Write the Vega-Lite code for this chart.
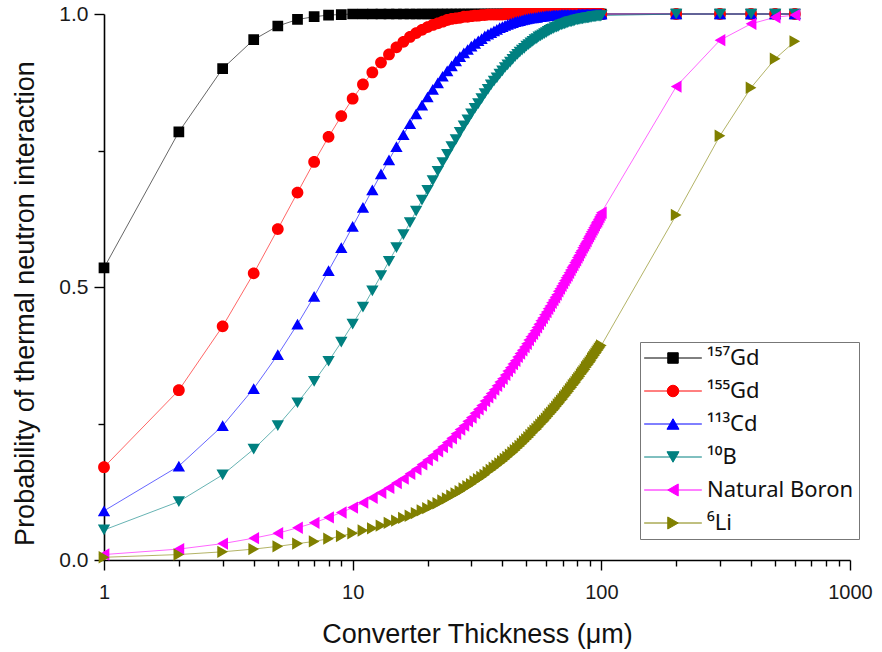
{
  "$schema": "https://vega.github.io/schema/vega-lite/v6.json",
  "width": 746,
  "height": 546,
  "autosize": "none",
  "padding": {"left": 104, "top": 14, "right": 32, "bottom": 92},
  "background": "white",
  "config": {
    "view": {"stroke": null},
    "font": "Liberation Sans",
    "axis": {
      "grid": false,
      "domainColor": "#000000",
      "domainWidth": 1.6,
      "tickColor": "#000000",
      "tickWidth": 1.4,
      "labelFont": "Liberation Sans",
      "labelColor": "#1a1a1a",
      "titleFont": "Liberation Sans",
      "titleColor": "#111111",
      "titleFontWeight": "normal",
      "labelOverlap": false,
      "labelFlush": false
    },
    "legend": {
      "orient": "none",
      "legendX": 536,
      "legendY": 328,
      "title": null,
      "labelFont": "Noto Sans",
      "labelFontSize": 22,
      "labelColor": "#111111",
      "labelLimit": 400,
      "symbolSize": 110,
      "symbolOffset": 17,
      "labelOffset": 23,
      "symbolStrokeWidth": 1,
      "symbolOpacity": 1,
      "rowPadding": 11,
      "padding": 5,
      "strokeColor": "#777777",
      "fillColor": "#ffffff"
    }
  },
  "data": {
    "values": [
      {"s":"¹⁵⁷Gd","x":1,"y":0.535},{"s":"¹⁵⁷Gd","x":2,"y":0.784},{"s":"¹⁵⁷Gd","x":3,"y":0.900},{"s":"¹⁵⁷Gd","x":4,"y":0.953},{"s":"¹⁵⁷Gd","x":5,"y":0.978},
      {"s":"¹⁵⁷Gd","x":6,"y":0.990},{"s":"¹⁵⁷Gd","x":7,"y":0.995},{"s":"¹⁵⁷Gd","x":8,"y":0.998},{"s":"¹⁵⁷Gd","x":9,"y":0.999},{"s":"¹⁵⁷Gd","x":10,"y":1},
      {"s":"¹⁵⁷Gd","x":11,"y":1},{"s":"¹⁵⁷Gd","x":12,"y":1},{"s":"¹⁵⁷Gd","x":13,"y":1},{"s":"¹⁵⁷Gd","x":14,"y":1},{"s":"¹⁵⁷Gd","x":15,"y":1},
      {"s":"¹⁵⁷Gd","x":16,"y":1},{"s":"¹⁵⁷Gd","x":17,"y":1},{"s":"¹⁵⁷Gd","x":18,"y":1},{"s":"¹⁵⁷Gd","x":19,"y":1},{"s":"¹⁵⁷Gd","x":20,"y":1},
      {"s":"¹⁵⁷Gd","x":21,"y":1},{"s":"¹⁵⁷Gd","x":22,"y":1},{"s":"¹⁵⁷Gd","x":23,"y":1},{"s":"¹⁵⁷Gd","x":24,"y":1},{"s":"¹⁵⁷Gd","x":25,"y":1},
      {"s":"¹⁵⁷Gd","x":26,"y":1},{"s":"¹⁵⁷Gd","x":27,"y":1},{"s":"¹⁵⁷Gd","x":28,"y":1},{"s":"¹⁵⁷Gd","x":29,"y":1},{"s":"¹⁵⁷Gd","x":30,"y":1},
      {"s":"¹⁵⁷Gd","x":31,"y":1},{"s":"¹⁵⁷Gd","x":32,"y":1},{"s":"¹⁵⁷Gd","x":33,"y":1},{"s":"¹⁵⁷Gd","x":34,"y":1},{"s":"¹⁵⁷Gd","x":35,"y":1},
      {"s":"¹⁵⁷Gd","x":36,"y":1},{"s":"¹⁵⁷Gd","x":37,"y":1},{"s":"¹⁵⁷Gd","x":38,"y":1},{"s":"¹⁵⁷Gd","x":39,"y":1},{"s":"¹⁵⁷Gd","x":40,"y":1},
      {"s":"¹⁵⁷Gd","x":41,"y":1},{"s":"¹⁵⁷Gd","x":42,"y":1},{"s":"¹⁵⁷Gd","x":43,"y":1},{"s":"¹⁵⁷Gd","x":44,"y":1},{"s":"¹⁵⁷Gd","x":45,"y":1},
      {"s":"¹⁵⁷Gd","x":46,"y":1},{"s":"¹⁵⁷Gd","x":47,"y":1},{"s":"¹⁵⁷Gd","x":48,"y":1},{"s":"¹⁵⁷Gd","x":49,"y":1},{"s":"¹⁵⁷Gd","x":50,"y":1},
      {"s":"¹⁵⁷Gd","x":51,"y":1},{"s":"¹⁵⁷Gd","x":52,"y":1},{"s":"¹⁵⁷Gd","x":53,"y":1},{"s":"¹⁵⁷Gd","x":54,"y":1},{"s":"¹⁵⁷Gd","x":55,"y":1},
      {"s":"¹⁵⁷Gd","x":56,"y":1},{"s":"¹⁵⁷Gd","x":57,"y":1},{"s":"¹⁵⁷Gd","x":58,"y":1},{"s":"¹⁵⁷Gd","x":59,"y":1},{"s":"¹⁵⁷Gd","x":60,"y":1},
      {"s":"¹⁵⁷Gd","x":61,"y":1},{"s":"¹⁵⁷Gd","x":62,"y":1},{"s":"¹⁵⁷Gd","x":63,"y":1},{"s":"¹⁵⁷Gd","x":64,"y":1},{"s":"¹⁵⁷Gd","x":65,"y":1},
      {"s":"¹⁵⁷Gd","x":66,"y":1},{"s":"¹⁵⁷Gd","x":67,"y":1},{"s":"¹⁵⁷Gd","x":68,"y":1},{"s":"¹⁵⁷Gd","x":69,"y":1},{"s":"¹⁵⁷Gd","x":70,"y":1},
      {"s":"¹⁵⁷Gd","x":71,"y":1},{"s":"¹⁵⁷Gd","x":72,"y":1},{"s":"¹⁵⁷Gd","x":73,"y":1},{"s":"¹⁵⁷Gd","x":74,"y":1},{"s":"¹⁵⁷Gd","x":75,"y":1},
      {"s":"¹⁵⁷Gd","x":76,"y":1},{"s":"¹⁵⁷Gd","x":77,"y":1},{"s":"¹⁵⁷Gd","x":78,"y":1},{"s":"¹⁵⁷Gd","x":79,"y":1},{"s":"¹⁵⁷Gd","x":80,"y":1},
      {"s":"¹⁵⁷Gd","x":81,"y":1},{"s":"¹⁵⁷Gd","x":82,"y":1},{"s":"¹⁵⁷Gd","x":83,"y":1},{"s":"¹⁵⁷Gd","x":84,"y":1},{"s":"¹⁵⁷Gd","x":85,"y":1},
      {"s":"¹⁵⁷Gd","x":86,"y":1},{"s":"¹⁵⁷Gd","x":87,"y":1},{"s":"¹⁵⁷Gd","x":88,"y":1},{"s":"¹⁵⁷Gd","x":89,"y":1},{"s":"¹⁵⁷Gd","x":90,"y":1},
      {"s":"¹⁵⁷Gd","x":91,"y":1},{"s":"¹⁵⁷Gd","x":92,"y":1},{"s":"¹⁵⁷Gd","x":93,"y":1},{"s":"¹⁵⁷Gd","x":94,"y":1},{"s":"¹⁵⁷Gd","x":95,"y":1},
      {"s":"¹⁵⁷Gd","x":96,"y":1},{"s":"¹⁵⁷Gd","x":97,"y":1},{"s":"¹⁵⁷Gd","x":98,"y":1},{"s":"¹⁵⁷Gd","x":99,"y":1},{"s":"¹⁵⁷Gd","x":100,"y":1},
      {"s":"¹⁵⁷Gd","x":200,"y":1},{"s":"¹⁵⁷Gd","x":300,"y":1},{"s":"¹⁵⁷Gd","x":400,"y":1},{"s":"¹⁵⁷Gd","x":500,"y":1},{"s":"¹⁵⁷Gd","x":600,"y":1},

      {"s":"¹⁵⁵Gd","x":1,"y":0.170},{"s":"¹⁵⁵Gd","x":2,"y":0.311},{"s":"¹⁵⁵Gd","x":3,"y":0.428},{"s":"¹⁵⁵Gd","x":4,"y":0.525},{"s":"¹⁵⁵Gd","x":5,"y":0.606},
      {"s":"¹⁵⁵Gd","x":6,"y":0.673},{"s":"¹⁵⁵Gd","x":7,"y":0.729},{"s":"¹⁵⁵Gd","x":8,"y":0.775},{"s":"¹⁵⁵Gd","x":9,"y":0.813},{"s":"¹⁵⁵Gd","x":10,"y":0.845},
      {"s":"¹⁵⁵Gd","x":11,"y":0.871},{"s":"¹⁵⁵Gd","x":12,"y":0.893},{"s":"¹⁵⁵Gd","x":13,"y":0.911},{"s":"¹⁵⁵Gd","x":14,"y":0.926},{"s":"¹⁵⁵Gd","x":15,"y":0.939},
      {"s":"¹⁵⁵Gd","x":16,"y":0.949},{"s":"¹⁵⁵Gd","x":17,"y":0.958},{"s":"¹⁵⁵Gd","x":18,"y":0.965},{"s":"¹⁵⁵Gd","x":19,"y":0.971},{"s":"¹⁵⁵Gd","x":20,"y":0.976},
      {"s":"¹⁵⁵Gd","x":21,"y":0.980},{"s":"¹⁵⁵Gd","x":22,"y":0.983},{"s":"¹⁵⁵Gd","x":23,"y":0.986},{"s":"¹⁵⁵Gd","x":24,"y":0.989},{"s":"¹⁵⁵Gd","x":25,"y":0.991},
      {"s":"¹⁵⁵Gd","x":26,"y":0.992},{"s":"¹⁵⁵Gd","x":27,"y":0.993},{"s":"¹⁵⁵Gd","x":28,"y":0.995},{"s":"¹⁵⁵Gd","x":29,"y":0.995},{"s":"¹⁵⁵Gd","x":30,"y":0.996},
      {"s":"¹⁵⁵Gd","x":31,"y":0.997},{"s":"¹⁵⁵Gd","x":32,"y":0.997},{"s":"¹⁵⁵Gd","x":33,"y":0.998},{"s":"¹⁵⁵Gd","x":34,"y":0.998},{"s":"¹⁵⁵Gd","x":35,"y":0.999},
      {"s":"¹⁵⁵Gd","x":36,"y":0.999},{"s":"¹⁵⁵Gd","x":37,"y":0.999},{"s":"¹⁵⁵Gd","x":38,"y":0.999},{"s":"¹⁵⁵Gd","x":39,"y":0.999},{"s":"¹⁵⁵Gd","x":40,"y":0.999},
      {"s":"¹⁵⁵Gd","x":41,"y":1},{"s":"¹⁵⁵Gd","x":42,"y":1},{"s":"¹⁵⁵Gd","x":43,"y":1},{"s":"¹⁵⁵Gd","x":44,"y":1},{"s":"¹⁵⁵Gd","x":45,"y":1},
      {"s":"¹⁵⁵Gd","x":46,"y":1},{"s":"¹⁵⁵Gd","x":47,"y":1},{"s":"¹⁵⁵Gd","x":48,"y":1},{"s":"¹⁵⁵Gd","x":49,"y":1},{"s":"¹⁵⁵Gd","x":50,"y":1},
      {"s":"¹⁵⁵Gd","x":51,"y":1},{"s":"¹⁵⁵Gd","x":52,"y":1},{"s":"¹⁵⁵Gd","x":53,"y":1},{"s":"¹⁵⁵Gd","x":54,"y":1},{"s":"¹⁵⁵Gd","x":55,"y":1},
      {"s":"¹⁵⁵Gd","x":56,"y":1},{"s":"¹⁵⁵Gd","x":57,"y":1},{"s":"¹⁵⁵Gd","x":58,"y":1},{"s":"¹⁵⁵Gd","x":59,"y":1},{"s":"¹⁵⁵Gd","x":60,"y":1},
      {"s":"¹⁵⁵Gd","x":61,"y":1},{"s":"¹⁵⁵Gd","x":62,"y":1},{"s":"¹⁵⁵Gd","x":63,"y":1},{"s":"¹⁵⁵Gd","x":64,"y":1},{"s":"¹⁵⁵Gd","x":65,"y":1},
      {"s":"¹⁵⁵Gd","x":66,"y":1},{"s":"¹⁵⁵Gd","x":67,"y":1},{"s":"¹⁵⁵Gd","x":68,"y":1},{"s":"¹⁵⁵Gd","x":69,"y":1},{"s":"¹⁵⁵Gd","x":70,"y":1},
      {"s":"¹⁵⁵Gd","x":71,"y":1},{"s":"¹⁵⁵Gd","x":72,"y":1},{"s":"¹⁵⁵Gd","x":73,"y":1},{"s":"¹⁵⁵Gd","x":74,"y":1},{"s":"¹⁵⁵Gd","x":75,"y":1},
      {"s":"¹⁵⁵Gd","x":76,"y":1},{"s":"¹⁵⁵Gd","x":77,"y":1},{"s":"¹⁵⁵Gd","x":78,"y":1},{"s":"¹⁵⁵Gd","x":79,"y":1},{"s":"¹⁵⁵Gd","x":80,"y":1},
      {"s":"¹⁵⁵Gd","x":81,"y":1},{"s":"¹⁵⁵Gd","x":82,"y":1},{"s":"¹⁵⁵Gd","x":83,"y":1},{"s":"¹⁵⁵Gd","x":84,"y":1},{"s":"¹⁵⁵Gd","x":85,"y":1},
      {"s":"¹⁵⁵Gd","x":86,"y":1},{"s":"¹⁵⁵Gd","x":87,"y":1},{"s":"¹⁵⁵Gd","x":88,"y":1},{"s":"¹⁵⁵Gd","x":89,"y":1},{"s":"¹⁵⁵Gd","x":90,"y":1},
      {"s":"¹⁵⁵Gd","x":91,"y":1},{"s":"¹⁵⁵Gd","x":92,"y":1},{"s":"¹⁵⁵Gd","x":93,"y":1},{"s":"¹⁵⁵Gd","x":94,"y":1},{"s":"¹⁵⁵Gd","x":95,"y":1},
      {"s":"¹⁵⁵Gd","x":96,"y":1},{"s":"¹⁵⁵Gd","x":97,"y":1},{"s":"¹⁵⁵Gd","x":98,"y":1},{"s":"¹⁵⁵Gd","x":99,"y":1},{"s":"¹⁵⁵Gd","x":100,"y":1},
      {"s":"¹⁵⁵Gd","x":200,"y":1},{"s":"¹⁵⁵Gd","x":300,"y":1},{"s":"¹⁵⁵Gd","x":400,"y":1},{"s":"¹⁵⁵Gd","x":500,"y":1},{"s":"¹⁵⁵Gd","x":600,"y":1},

      {"s":"¹¹³Cd","x":1,"y":0.090},{"s":"¹¹³Cd","x":2,"y":0.172},{"s":"¹¹³Cd","x":3,"y":0.246},{"s":"¹¹³Cd","x":4,"y":0.314},{"s":"¹¹³Cd","x":5,"y":0.376},
      {"s":"¹¹³Cd","x":6,"y":0.432},{"s":"¹¹³Cd","x":7,"y":0.483},{"s":"¹¹³Cd","x":8,"y":0.530},{"s":"¹¹³Cd","x":9,"y":0.572},{"s":"¹¹³Cd","x":10,"y":0.611},
      {"s":"¹¹³Cd","x":11,"y":0.646},{"s":"¹¹³Cd","x":12,"y":0.678},{"s":"¹¹³Cd","x":13,"y":0.707},{"s":"¹¹³Cd","x":14,"y":0.733},{"s":"¹¹³Cd","x":15,"y":0.757},
      {"s":"¹¹³Cd","x":16,"y":0.779},{"s":"¹¹³Cd","x":17,"y":0.799},{"s":"¹¹³Cd","x":18,"y":0.817},{"s":"¹¹³Cd","x":19,"y":0.833},{"s":"¹¹³Cd","x":20,"y":0.848},
      {"s":"¹¹³Cd","x":21,"y":0.862},{"s":"¹¹³Cd","x":22,"y":0.874},{"s":"¹¹³Cd","x":23,"y":0.886},{"s":"¹¹³Cd","x":24,"y":0.896},{"s":"¹¹³Cd","x":25,"y":0.905},
      {"s":"¹¹³Cd","x":26,"y":0.914},{"s":"¹¹³Cd","x":27,"y":0.922},{"s":"¹¹³Cd","x":28,"y":0.929},{"s":"¹¹³Cd","x":29,"y":0.935},{"s":"¹¹³Cd","x":30,"y":0.941},
      {"s":"¹¹³Cd","x":31,"y":0.946},{"s":"¹¹³Cd","x":32,"y":0.951},{"s":"¹¹³Cd","x":33,"y":0.955},{"s":"¹¹³Cd","x":34,"y":0.960},{"s":"¹¹³Cd","x":35,"y":0.963},
      {"s":"¹¹³Cd","x":36,"y":0.966},{"s":"¹¹³Cd","x":37,"y":0.969},{"s":"¹¹³Cd","x":38,"y":0.972},{"s":"¹¹³Cd","x":39,"y":0.975},{"s":"¹¹³Cd","x":40,"y":0.977},
      {"s":"¹¹³Cd","x":41,"y":0.979},{"s":"¹¹³Cd","x":42,"y":0.981},{"s":"¹¹³Cd","x":43,"y":0.983},{"s":"¹¹³Cd","x":44,"y":0.984},{"s":"¹¹³Cd","x":45,"y":0.986},
      {"s":"¹¹³Cd","x":46,"y":0.987},{"s":"¹¹³Cd","x":47,"y":0.988},{"s":"¹¹³Cd","x":48,"y":0.989},{"s":"¹¹³Cd","x":49,"y":0.990},{"s":"¹¹³Cd","x":50,"y":0.991},
      {"s":"¹¹³Cd","x":51,"y":0.992},{"s":"¹¹³Cd","x":52,"y":0.993},{"s":"¹¹³Cd","x":53,"y":0.993},{"s":"¹¹³Cd","x":54,"y":0.994},{"s":"¹¹³Cd","x":55,"y":0.994},
      {"s":"¹¹³Cd","x":56,"y":0.995},{"s":"¹¹³Cd","x":57,"y":0.995},{"s":"¹¹³Cd","x":58,"y":0.996},{"s":"¹¹³Cd","x":59,"y":0.996},{"s":"¹¹³Cd","x":60,"y":0.997},
      {"s":"¹¹³Cd","x":61,"y":0.997},{"s":"¹¹³Cd","x":62,"y":0.997},{"s":"¹¹³Cd","x":63,"y":0.997},{"s":"¹¹³Cd","x":64,"y":0.998},{"s":"¹¹³Cd","x":65,"y":0.998},
      {"s":"¹¹³Cd","x":66,"y":0.998},{"s":"¹¹³Cd","x":67,"y":0.998},{"s":"¹¹³Cd","x":68,"y":0.998},{"s":"¹¹³Cd","x":69,"y":0.999},{"s":"¹¹³Cd","x":70,"y":0.999},
      {"s":"¹¹³Cd","x":71,"y":0.999},{"s":"¹¹³Cd","x":72,"y":0.999},{"s":"¹¹³Cd","x":73,"y":0.999},{"s":"¹¹³Cd","x":74,"y":0.999},{"s":"¹¹³Cd","x":75,"y":0.999},
      {"s":"¹¹³Cd","x":76,"y":0.999},{"s":"¹¹³Cd","x":77,"y":0.999},{"s":"¹¹³Cd","x":78,"y":0.999},{"s":"¹¹³Cd","x":79,"y":0.999},{"s":"¹¹³Cd","x":80,"y":0.999},
      {"s":"¹¹³Cd","x":81,"y":1},{"s":"¹¹³Cd","x":82,"y":1},{"s":"¹¹³Cd","x":83,"y":1},{"s":"¹¹³Cd","x":84,"y":1},{"s":"¹¹³Cd","x":85,"y":1},
      {"s":"¹¹³Cd","x":86,"y":1},{"s":"¹¹³Cd","x":87,"y":1},{"s":"¹¹³Cd","x":88,"y":1},{"s":"¹¹³Cd","x":89,"y":1},{"s":"¹¹³Cd","x":90,"y":1},
      {"s":"¹¹³Cd","x":91,"y":1},{"s":"¹¹³Cd","x":92,"y":1},{"s":"¹¹³Cd","x":93,"y":1},{"s":"¹¹³Cd","x":94,"y":1},{"s":"¹¹³Cd","x":95,"y":1},
      {"s":"¹¹³Cd","x":96,"y":1},{"s":"¹¹³Cd","x":97,"y":1},{"s":"¹¹³Cd","x":98,"y":1},{"s":"¹¹³Cd","x":99,"y":1},{"s":"¹¹³Cd","x":100,"y":1},
      {"s":"¹¹³Cd","x":200,"y":1},{"s":"¹¹³Cd","x":300,"y":1},{"s":"¹¹³Cd","x":400,"y":1},{"s":"¹¹³Cd","x":500,"y":1},{"s":"¹¹³Cd","x":600,"y":1},

      {"s":"¹⁰B","x":1,"y":0.055},{"s":"¹⁰B","x":2,"y":0.107},{"s":"¹⁰B","x":3,"y":0.156},{"s":"¹⁰B","x":4,"y":0.203},{"s":"¹⁰B","x":5,"y":0.246},
      {"s":"¹⁰B","x":6,"y":0.288},{"s":"¹⁰B","x":7,"y":0.327},{"s":"¹⁰B","x":8,"y":0.364},{"s":"¹⁰B","x":9,"y":0.399},{"s":"¹⁰B","x":10,"y":0.432},
      {"s":"¹⁰B","x":11,"y":0.463},{"s":"¹⁰B","x":12,"y":0.493},{"s":"¹⁰B","x":13,"y":0.521},{"s":"¹⁰B","x":14,"y":0.547},{"s":"¹⁰B","x":15,"y":0.572},
      {"s":"¹⁰B","x":16,"y":0.596},{"s":"¹⁰B","x":17,"y":0.618},{"s":"¹⁰B","x":18,"y":0.639},{"s":"¹⁰B","x":19,"y":0.659},{"s":"¹⁰B","x":20,"y":0.677},
      {"s":"¹⁰B","x":21,"y":0.695},{"s":"¹⁰B","x":22,"y":0.712},{"s":"¹⁰B","x":23,"y":0.728},{"s":"¹⁰B","x":24,"y":0.743},{"s":"¹⁰B","x":25,"y":0.757},
      {"s":"¹⁰B","x":26,"y":0.770},{"s":"¹⁰B","x":27,"y":0.783},{"s":"¹⁰B","x":28,"y":0.795},{"s":"¹⁰B","x":29,"y":0.806},{"s":"¹⁰B","x":30,"y":0.817},
      {"s":"¹⁰B","x":31,"y":0.827},{"s":"¹⁰B","x":32,"y":0.836},{"s":"¹⁰B","x":33,"y":0.845},{"s":"¹⁰B","x":34,"y":0.854},{"s":"¹⁰B","x":35,"y":0.862},
      {"s":"¹⁰B","x":36,"y":0.870},{"s":"¹⁰B","x":37,"y":0.877},{"s":"¹⁰B","x":38,"y":0.883},{"s":"¹⁰B","x":39,"y":0.890},{"s":"¹⁰B","x":40,"y":0.896},
      {"s":"¹⁰B","x":41,"y":0.902},{"s":"¹⁰B","x":42,"y":0.907},{"s":"¹⁰B","x":43,"y":0.912},{"s":"¹⁰B","x":44,"y":0.917},{"s":"¹⁰B","x":45,"y":0.922},
      {"s":"¹⁰B","x":46,"y":0.926},{"s":"¹⁰B","x":47,"y":0.930},{"s":"¹⁰B","x":48,"y":0.934},{"s":"¹⁰B","x":49,"y":0.937},{"s":"¹⁰B","x":50,"y":0.941},
      {"s":"¹⁰B","x":51,"y":0.944},{"s":"¹⁰B","x":52,"y":0.947},{"s":"¹⁰B","x":53,"y":0.950},{"s":"¹⁰B","x":54,"y":0.953},{"s":"¹⁰B","x":55,"y":0.955},
      {"s":"¹⁰B","x":56,"y":0.958},{"s":"¹⁰B","x":57,"y":0.960},{"s":"¹⁰B","x":58,"y":0.962},{"s":"¹⁰B","x":59,"y":0.964},{"s":"¹⁰B","x":60,"y":0.966},
      {"s":"¹⁰B","x":61,"y":0.968},{"s":"¹⁰B","x":62,"y":0.970},{"s":"¹⁰B","x":63,"y":0.972},{"s":"¹⁰B","x":64,"y":0.973},{"s":"¹⁰B","x":65,"y":0.975},
      {"s":"¹⁰B","x":66,"y":0.976},{"s":"¹⁰B","x":67,"y":0.977},{"s":"¹⁰B","x":68,"y":0.979},{"s":"¹⁰B","x":69,"y":0.980},{"s":"¹⁰B","x":70,"y":0.981},
      {"s":"¹⁰B","x":71,"y":0.982},{"s":"¹⁰B","x":72,"y":0.983},{"s":"¹⁰B","x":73,"y":0.984},{"s":"¹⁰B","x":74,"y":0.985},{"s":"¹⁰B","x":75,"y":0.986},
      {"s":"¹⁰B","x":76,"y":0.986},{"s":"¹⁰B","x":77,"y":0.987},{"s":"¹⁰B","x":78,"y":0.988},{"s":"¹⁰B","x":79,"y":0.989},{"s":"¹⁰B","x":80,"y":0.989},
      {"s":"¹⁰B","x":81,"y":0.990},{"s":"¹⁰B","x":82,"y":0.990},{"s":"¹⁰B","x":83,"y":0.991},{"s":"¹⁰B","x":84,"y":0.991},{"s":"¹⁰B","x":85,"y":0.992},
      {"s":"¹⁰B","x":86,"y":0.992},{"s":"¹⁰B","x":87,"y":0.993},{"s":"¹⁰B","x":88,"y":0.993},{"s":"¹⁰B","x":89,"y":0.993},{"s":"¹⁰B","x":90,"y":0.994},
      {"s":"¹⁰B","x":91,"y":0.994},{"s":"¹⁰B","x":92,"y":0.995},{"s":"¹⁰B","x":93,"y":0.995},{"s":"¹⁰B","x":94,"y":0.995},{"s":"¹⁰B","x":95,"y":0.995},
      {"s":"¹⁰B","x":96,"y":0.996},{"s":"¹⁰B","x":97,"y":0.996},{"s":"¹⁰B","x":98,"y":0.996},{"s":"¹⁰B","x":99,"y":0.996},{"s":"¹⁰B","x":100,"y":0.997},
      {"s":"¹⁰B","x":200,"y":1},{"s":"¹⁰B","x":300,"y":1},{"s":"¹⁰B","x":400,"y":1},{"s":"¹⁰B","x":500,"y":1},{"s":"¹⁰B","x":600,"y":1},

      {"s":"Natural Boron","x":1,"y":0.010},{"s":"Natural Boron","x":2,"y":0.020},{"s":"Natural Boron","x":3,"y":0.030},{"s":"Natural Boron","x":4,"y":0.040},{"s":"Natural Boron","x":5,"y":0.049},
      {"s":"Natural Boron","x":6,"y":0.059},{"s":"Natural Boron","x":7,"y":0.068},{"s":"Natural Boron","x":8,"y":0.078},{"s":"Natural Boron","x":9,"y":0.087},{"s":"Natural Boron","x":10,"y":0.096},
      {"s":"Natural Boron","x":11,"y":0.105},{"s":"Natural Boron","x":12,"y":0.114},{"s":"Natural Boron","x":13,"y":0.123},{"s":"Natural Boron","x":14,"y":0.132},{"s":"Natural Boron","x":15,"y":0.141},
      {"s":"Natural Boron","x":16,"y":0.149},{"s":"Natural Boron","x":17,"y":0.158},{"s":"Natural Boron","x":18,"y":0.166},{"s":"Natural Boron","x":19,"y":0.175},{"s":"Natural Boron","x":20,"y":0.183},
      {"s":"Natural Boron","x":21,"y":0.191},{"s":"Natural Boron","x":22,"y":0.199},{"s":"Natural Boron","x":23,"y":0.207},{"s":"Natural Boron","x":24,"y":0.215},{"s":"Natural Boron","x":25,"y":0.223},
      {"s":"Natural Boron","x":26,"y":0.231},{"s":"Natural Boron","x":27,"y":0.239},{"s":"Natural Boron","x":28,"y":0.246},{"s":"Natural Boron","x":29,"y":0.254},{"s":"Natural Boron","x":30,"y":0.261},
      {"s":"Natural Boron","x":31,"y":0.269},{"s":"Natural Boron","x":32,"y":0.276},{"s":"Natural Boron","x":33,"y":0.283},{"s":"Natural Boron","x":34,"y":0.291},{"s":"Natural Boron","x":35,"y":0.298},
      {"s":"Natural Boron","x":36,"y":0.305},{"s":"Natural Boron","x":37,"y":0.312},{"s":"Natural Boron","x":38,"y":0.319},{"s":"Natural Boron","x":39,"y":0.326},{"s":"Natural Boron","x":40,"y":0.332},
      {"s":"Natural Boron","x":41,"y":0.339},{"s":"Natural Boron","x":42,"y":0.346},{"s":"Natural Boron","x":43,"y":0.352},{"s":"Natural Boron","x":44,"y":0.359},{"s":"Natural Boron","x":45,"y":0.365},
      {"s":"Natural Boron","x":46,"y":0.372},{"s":"Natural Boron","x":47,"y":0.378},{"s":"Natural Boron","x":48,"y":0.384},{"s":"Natural Boron","x":49,"y":0.390},{"s":"Natural Boron","x":50,"y":0.396},
      {"s":"Natural Boron","x":51,"y":0.403},{"s":"Natural Boron","x":52,"y":0.409},{"s":"Natural Boron","x":53,"y":0.414},{"s":"Natural Boron","x":54,"y":0.420},{"s":"Natural Boron","x":55,"y":0.426},
      {"s":"Natural Boron","x":56,"y":0.432},{"s":"Natural Boron","x":57,"y":0.438},{"s":"Natural Boron","x":58,"y":0.443},{"s":"Natural Boron","x":59,"y":0.449},{"s":"Natural Boron","x":60,"y":0.454},
      {"s":"Natural Boron","x":61,"y":0.460},{"s":"Natural Boron","x":62,"y":0.465},{"s":"Natural Boron","x":63,"y":0.471},{"s":"Natural Boron","x":64,"y":0.476},{"s":"Natural Boron","x":65,"y":0.481},
      {"s":"Natural Boron","x":66,"y":0.486},{"s":"Natural Boron","x":67,"y":0.492},{"s":"Natural Boron","x":68,"y":0.497},{"s":"Natural Boron","x":69,"y":0.502},{"s":"Natural Boron","x":70,"y":0.507},
      {"s":"Natural Boron","x":71,"y":0.512},{"s":"Natural Boron","x":72,"y":0.517},{"s":"Natural Boron","x":73,"y":0.521},{"s":"Natural Boron","x":74,"y":0.526},{"s":"Natural Boron","x":75,"y":0.531},
      {"s":"Natural Boron","x":76,"y":0.536},{"s":"Natural Boron","x":77,"y":0.540},{"s":"Natural Boron","x":78,"y":0.545},{"s":"Natural Boron","x":79,"y":0.549},{"s":"Natural Boron","x":80,"y":0.554},
      {"s":"Natural Boron","x":81,"y":0.558},{"s":"Natural Boron","x":82,"y":0.563},{"s":"Natural Boron","x":83,"y":0.567},{"s":"Natural Boron","x":84,"y":0.572},{"s":"Natural Boron","x":85,"y":0.576},
      {"s":"Natural Boron","x":86,"y":0.580},{"s":"Natural Boron","x":87,"y":0.584},{"s":"Natural Boron","x":88,"y":0.589},{"s":"Natural Boron","x":89,"y":0.593},{"s":"Natural Boron","x":90,"y":0.597},
      {"s":"Natural Boron","x":91,"y":0.601},{"s":"Natural Boron","x":92,"y":0.605},{"s":"Natural Boron","x":93,"y":0.609},{"s":"Natural Boron","x":94,"y":0.613},{"s":"Natural Boron","x":95,"y":0.617},
      {"s":"Natural Boron","x":96,"y":0.620},{"s":"Natural Boron","x":97,"y":0.624},{"s":"Natural Boron","x":98,"y":0.628},{"s":"Natural Boron","x":99,"y":0.632},{"s":"Natural Boron","x":100,"y":0.636},
      {"s":"Natural Boron","x":200,"y":0.867},{"s":"Natural Boron","x":300,"y":0.952},{"s":"Natural Boron","x":400,"y":0.982},{"s":"Natural Boron","x":500,"y":0.994},{"s":"Natural Boron","x":600,"y":0.998},

      {"s":"⁶Li","x":1,"y":0.005},{"s":"⁶Li","x":2,"y":0.010},{"s":"⁶Li","x":3,"y":0.015},{"s":"⁶Li","x":4,"y":0.020},{"s":"⁶Li","x":5,"y":0.025},
      {"s":"⁶Li","x":6,"y":0.030},{"s":"⁶Li","x":7,"y":0.034},{"s":"⁶Li","x":8,"y":0.039},{"s":"⁶Li","x":9,"y":0.044},{"s":"⁶Li","x":10,"y":0.049},
      {"s":"⁶Li","x":11,"y":0.054},{"s":"⁶Li","x":12,"y":0.058},{"s":"⁶Li","x":13,"y":0.063},{"s":"⁶Li","x":14,"y":0.068},{"s":"⁶Li","x":15,"y":0.072},
      {"s":"⁶Li","x":16,"y":0.077},{"s":"⁶Li","x":17,"y":0.081},{"s":"⁶Li","x":18,"y":0.086},{"s":"⁶Li","x":19,"y":0.091},{"s":"⁶Li","x":20,"y":0.095},
      {"s":"⁶Li","x":21,"y":0.100},{"s":"⁶Li","x":22,"y":0.104},{"s":"⁶Li","x":23,"y":0.109},{"s":"⁶Li","x":24,"y":0.113},{"s":"⁶Li","x":25,"y":0.118},
      {"s":"⁶Li","x":26,"y":0.122},{"s":"⁶Li","x":27,"y":0.126},{"s":"⁶Li","x":28,"y":0.131},{"s":"⁶Li","x":29,"y":0.135},{"s":"⁶Li","x":30,"y":0.139},
      {"s":"⁶Li","x":31,"y":0.144},{"s":"⁶Li","x":32,"y":0.148},{"s":"⁶Li","x":33,"y":0.152},{"s":"⁶Li","x":34,"y":0.156},{"s":"⁶Li","x":35,"y":0.161},
      {"s":"⁶Li","x":36,"y":0.165},{"s":"⁶Li","x":37,"y":0.169},{"s":"⁶Li","x":38,"y":0.173},{"s":"⁶Li","x":39,"y":0.177},{"s":"⁶Li","x":40,"y":0.181},
      {"s":"⁶Li","x":41,"y":0.185},{"s":"⁶Li","x":42,"y":0.189},{"s":"⁶Li","x":43,"y":0.193},{"s":"⁶Li","x":44,"y":0.197},{"s":"⁶Li","x":45,"y":0.201},
      {"s":"⁶Li","x":46,"y":0.205},{"s":"⁶Li","x":47,"y":0.209},{"s":"⁶Li","x":48,"y":0.213},{"s":"⁶Li","x":49,"y":0.217},{"s":"⁶Li","x":50,"y":0.221},
      {"s":"⁶Li","x":51,"y":0.225},{"s":"⁶Li","x":52,"y":0.229},{"s":"⁶Li","x":53,"y":0.233},{"s":"⁶Li","x":54,"y":0.237},{"s":"⁶Li","x":55,"y":0.240},
      {"s":"⁶Li","x":56,"y":0.244},{"s":"⁶Li","x":57,"y":0.248},{"s":"⁶Li","x":58,"y":0.252},{"s":"⁶Li","x":59,"y":0.255},{"s":"⁶Li","x":60,"y":0.259},
      {"s":"⁶Li","x":61,"y":0.263},{"s":"⁶Li","x":62,"y":0.267},{"s":"⁶Li","x":63,"y":0.270},{"s":"⁶Li","x":64,"y":0.274},{"s":"⁶Li","x":65,"y":0.277},
      {"s":"⁶Li","x":66,"y":0.281},{"s":"⁶Li","x":67,"y":0.285},{"s":"⁶Li","x":68,"y":0.288},{"s":"⁶Li","x":69,"y":0.292},{"s":"⁶Li","x":70,"y":0.295},
      {"s":"⁶Li","x":71,"y":0.299},{"s":"⁶Li","x":72,"y":0.302},{"s":"⁶Li","x":73,"y":0.306},{"s":"⁶Li","x":74,"y":0.309},{"s":"⁶Li","x":75,"y":0.313},
      {"s":"⁶Li","x":76,"y":0.316},{"s":"⁶Li","x":77,"y":0.320},{"s":"⁶Li","x":78,"y":0.323},{"s":"⁶Li","x":79,"y":0.326},{"s":"⁶Li","x":80,"y":0.330},
      {"s":"⁶Li","x":81,"y":0.333},{"s":"⁶Li","x":82,"y":0.336},{"s":"⁶Li","x":83,"y":0.340},{"s":"⁶Li","x":84,"y":0.343},{"s":"⁶Li","x":85,"y":0.346},
      {"s":"⁶Li","x":86,"y":0.349},{"s":"⁶Li","x":87,"y":0.353},{"s":"⁶Li","x":88,"y":0.356},{"s":"⁶Li","x":89,"y":0.359},{"s":"⁶Li","x":90,"y":0.362},
      {"s":"⁶Li","x":91,"y":0.365},{"s":"⁶Li","x":92,"y":0.369},{"s":"⁶Li","x":93,"y":0.372},{"s":"⁶Li","x":94,"y":0.375},{"s":"⁶Li","x":95,"y":0.378},
      {"s":"⁶Li","x":96,"y":0.381},{"s":"⁶Li","x":97,"y":0.384},{"s":"⁶Li","x":98,"y":0.387},{"s":"⁶Li","x":99,"y":0.390},{"s":"⁶Li","x":100,"y":0.393},
      {"s":"⁶Li","x":200,"y":0.632},{"s":"⁶Li","x":300,"y":0.777},{"s":"⁶Li","x":400,"y":0.865},{"s":"⁶Li","x":500,"y":0.918},{"s":"⁶Li","x":600,"y":0.950}
    ]
  },
  "encoding": {
    "x": {
      "field": "x",
      "type": "quantitative",
      "scale": {"type": "log", "domain": [1, 1000], "nice": false},
      "axis": {
        "values": [1,2,3,4,5,6,7,8,9,10,20,30,40,50,60,70,80,90,100,200,300,400,500,600,700,800,900,1000],
        "labelExpr": "indexof([1,10,100,1000], datum.value) >= 0 ? format(datum.value, 'd') : ''",
        "tickSize": {"condition": {"test": "indexof([1,10,100,1000], datum.value) >= 0", "value": 10}, "value": 6},
        "labelFontSize": 20,
        "labelPadding": 12,
        "title": "Converter Thickness (μm)",
        "titleFontSize": 27,
        "titleBaseline": "alphabetic",
        "titleY": 82
      }
    },
    "y": {
      "field": "y",
      "type": "quantitative",
      "scale": {"domain": [0, 1], "nice": false},
      "axis": {
        "values": [0, 0.25, 0.5, 0.75, 1],
        "labelExpr": "(datum.value * 2) % 1 == 0 ? format(datum.value, '.1f') : ''",
        "tickSize": {"condition": {"test": "(datum.value * 2) % 1 == 0", "value": 10}, "value": 6},
        "labelFontSize": 21,
        "labelPadding": 6,
        "title": "Probability of thermal neutron interaction",
        "titleFontSize": 27,
        "titleBaseline": "alphabetic",
        "titleX": -71,
        "titleY": 289
      }
    },
    "color": {
      "field": "s",
      "type": "nominal",
      "scale": {
        "domain": ["¹⁵⁷Gd", "¹⁵⁵Gd", "¹¹³Cd", "¹⁰B", "Natural Boron", "⁶Li"],
        "range": ["#000000", "#ff0000", "#0000ff", "#008080", "#ff00ff", "#808000"]
      },
      "legend": {"title": null}
    }
  },
  "layer": [
    {
      "mark": {"type": "line", "strokeWidth": 1, "strokeOpacity": 0.6, "clip": false}
    },
    {
      "mark": {"type": "point", "filled": true, "size": 115, "opacity": 1, "clip": false},
      "encoding": {
        "shape": {
          "field": "s",
          "type": "nominal",
          "legend": {"title": null},
          "scale": {
            "domain": ["¹⁵⁷Gd", "¹⁵⁵Gd", "¹¹³Cd", "¹⁰B", "Natural Boron", "⁶Li"],
            "range": [
              "M-5.5,0H5.5M-1,-1H1V1H-1Z",
              "M-5.5,0H5.5M1.1,0A1.1,1.1,0,1,1,-1.1,0A1.1,1.1,0,1,1,1.1,0Z",
              "M-5.5,0H5.5M0,-1L1.15,1H-1.15Z",
              "M-5.5,0H5.5M0,1L1.15,-1H-1.15Z",
              "M-5.5,0H5.5M-1,0L1,-1.15V1.15Z",
              "M-5.5,0H5.5M1,0L-1,-1.15V1.15Z"
            ]
          }
        }
      }
    }
  ]
}
